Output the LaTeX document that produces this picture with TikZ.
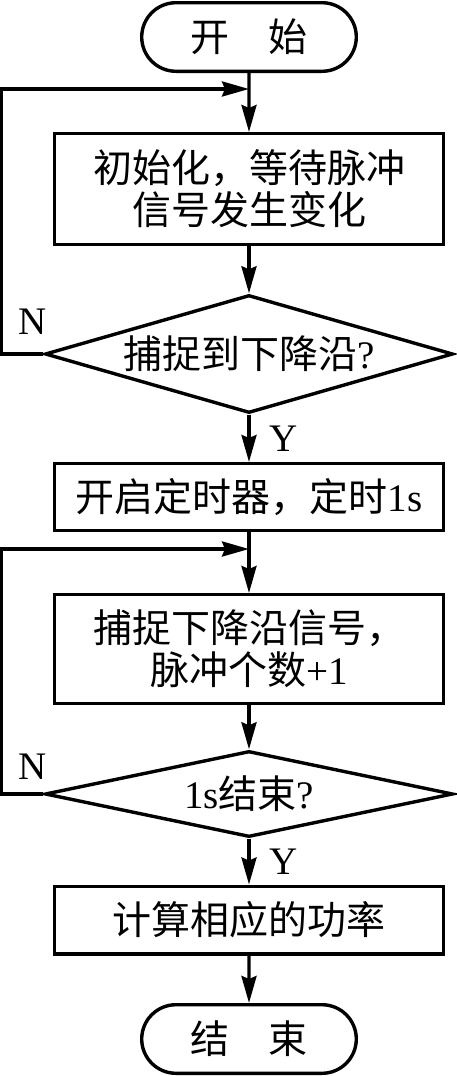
\documentclass[tikz,border=0pt]{standalone}
\usepackage{fontspec}
\setmainfont{Liberation Serif}
\newfontfamily\cjk{Noto Sans CJK SC}
\usepackage{tikz}
\usetikzlibrary{arrows.meta,shapes.geometric,shapes.misc}

\begin{document}
\begin{tikzpicture}[x=0.5pt,y=-0.5pt,font=\cjk\fontsize{19.5}{21}\selectfont]
\tikzstyle{term}=[rounded rectangle, draw, line width=1.7pt,
                        minimum width=107.3pt, minimum height=34.3pt, inner sep=0pt]
\tikzstyle{box}=[rectangle, draw, line width=1.7pt, align=center,
                        minimum width=194.3pt, inner sep=0pt]
\tikzstyle{dec}=[diamond, draw, line width=1.7pt, minimum width=204pt, inner sep=0pt]
\tikzstyle{arr}=[line width=1.7pt, -{Stealth[length=13.5pt,width=7.5pt,inset=1.5pt]}]
\tikzstyle{lbl}=[midway, right, xshift=6pt, font=\rmfamily\fontsize{19.5}{21}\selectfont]
\useasboundingbox (0,0) rectangle (456,1076);
\node[term] (st) at (249,37) {开\hspace{1em}始};
\node[box, minimum height=55.3pt] (b1) at (249,189) {初始化，等待脉冲\\信号发生变化};
\node[dec, aspect=3.46, minimum height=59pt] (d1) at (249,354) {捕捉到下降沿{\rmfamily ?}};
\node[box, minimum height=33.3pt] (b2) at (249,497) {开启定时器，定时{\rmfamily 1s}};
\node[box, minimum height=54.3pt] (b3) at (249,649) {捕捉下降沿信号，\\脉冲个数{\rmfamily +1}};
\node[dec, aspect=4.74, minimum height=43pt] (d2) at (249,794) {{\rmfamily 1s}结束{\rmfamily ?}};
\node[box, minimum height=33.8pt] (b4) at (249,920) {计算相应的功率};
\node[term] (en) at (249,1039) {结\hspace{1em}束};
\coordinate (j1) at (249,89);
\coordinate (j2) at (249,549);
\foreach \i/\j in {st/b1,b1/d1,b2/b3,b3/d2,b4/en}{\draw[arr] (\i) -- (\j);}
\foreach \i/\j in {d1/b2,d2/b4}{\draw[arr] (\i) -- node[lbl]{Y} (\j);}
% back to the top of each loop
\draw[arr] (d1.west) -- ++(-42,0) |- (j1);
\draw[arr] (d2.west) -- ++(-42,0) |- (j2);
\node[font=\rmfamily\fontsize{19.5}{21}\selectfont] (n1) at (33,322) {N};
\node[font=\rmfamily\fontsize{19.5}{21}\selectfont] (n2) at (33,767) {N};
\end{tikzpicture}
\end{document}
